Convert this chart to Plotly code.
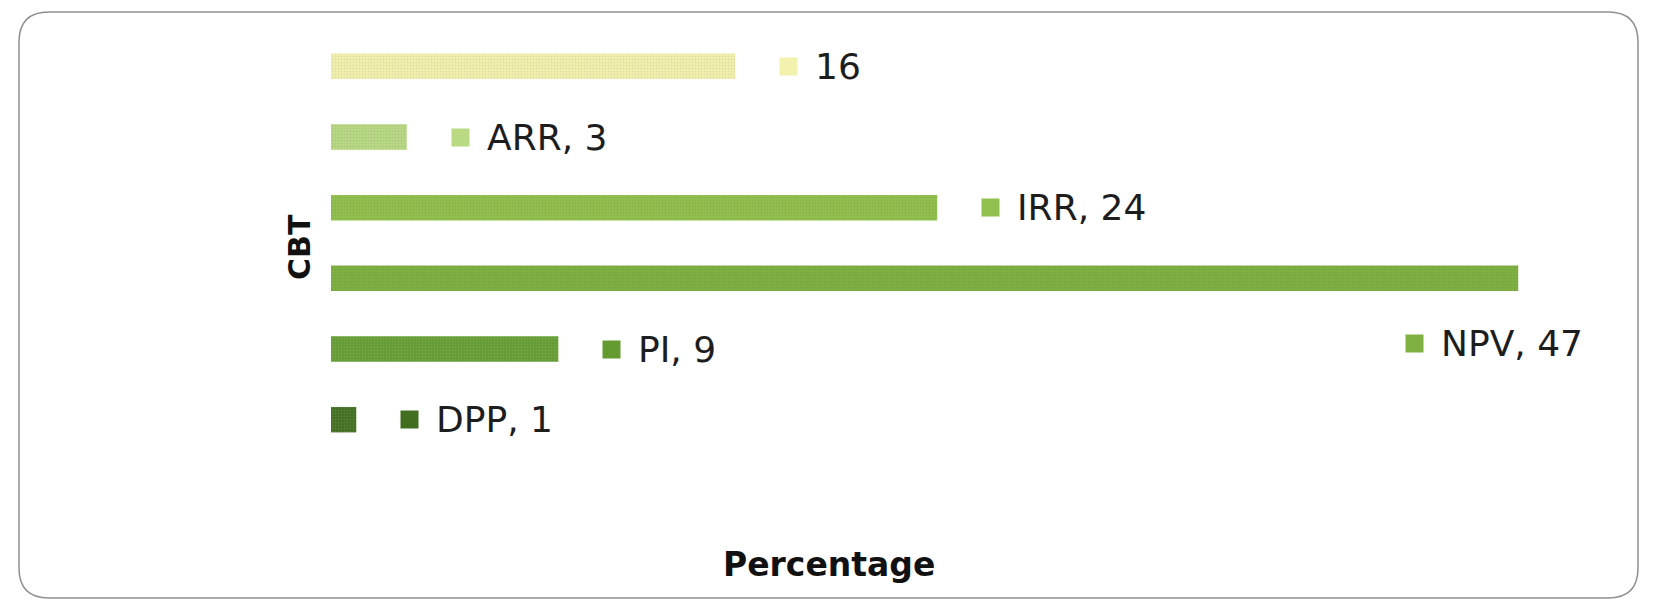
import plotly.graph_objects as go

# Capital budgeting techniques (CBT) and share of use, top to bottom
categories = ["PP", "ARR", "IRR", "NPV", "PI", "DPP"]
label_names = ["", "ARR", "IRR", "NPV", "PI", "DPP"]
values = [16, 3, 24, 47, 9, 1]
colors = ["#F3F1AE", "#B9D983", "#92C04E", "#7EB141", "#639B31", "#416E1F"]
x_max = 50

W, H = 1656, 604
ml, mr, mt, mb = 331, 62, 31, 149
pw, ph = W - ml - mr, H - mt - mb


def px_x(p):
    return (p - ml) / pw


def px_y(p):
    return (H - mb - p) / ph


fig = go.Figure()
fig.add_trace(go.Bar(
    x=values,
    y=categories,
    orientation="h",
    marker=dict(
        color=colors,
        line=dict(width=0),
        pattern=dict(shape=".", fgcolor="#ffffff", fgopacity=0.12, size=3, solidity=0.3),
    ),
    hoverinfo="x+y",
))

label_font = dict(family="DejaVu Sans", size=36, color="#1d1d1d")
key_gap = 44     # bar end -> colour key
text_gap = 34    # colour key -> label text
annotations = []
for cat, name, v, c in zip(categories, label_names, values, colors):
    text = f"{name}, {v}" if name else f"{v}"
    dx, dy = key_gap, 0
    if name == "NPV":
        # the longest bar carries its label underneath, pulled back inside the frame
        dx, dy = -113, -65
    annotations.append(dict(
        x=v, y=cat, xref="x", yref="y", text=" ", showarrow=False,
        xanchor="left", yanchor="middle", xshift=dx, yshift=dy,
        width=17, height=17, bgcolor=c, borderpad=0, font=dict(size=10),
    ))
    annotations.append(dict(
        x=v, y=cat, xref="x", yref="y", text=text, showarrow=False,
        xanchor="left", yanchor="middle", xshift=dx + text_gap, yshift=dy,
        font=label_font,
    ))

annotations.append(dict(
    x=px_x(829), y=px_y(564), xref="paper", yref="paper", text="<b>Percentage</b>",
    showarrow=False, xanchor="center", yanchor="middle",
    font=dict(family="DejaVu Sans", size=33, color="#111111"),
))
annotations.append(dict(
    x=px_x(299), y=px_y(247), xref="paper", yref="paper", text="<b>CBT</b>",
    showarrow=False, xanchor="center", yanchor="middle", textangle=-90,
    font=dict(family="DejaVu Sans", size=30, color="#111111"),
))

# rounded chart frame
x0, x1, y0, y1, r = 19, 1638, 12, 598, 30
frame = (
    f"M {px_x(x0 + r)} {px_y(y0)} L {px_x(x1 - r)} {px_y(y0)} "
    f"Q {px_x(x1)} {px_y(y0)} {px_x(x1)} {px_y(y0 + r)} "
    f"L {px_x(x1)} {px_y(y1 - r)} "
    f"Q {px_x(x1)} {px_y(y1)} {px_x(x1 - r)} {px_y(y1)} "
    f"L {px_x(x0 + r)} {px_y(y1)} "
    f"Q {px_x(x0)} {px_y(y1)} {px_x(x0)} {px_y(y1 - r)} "
    f"L {px_x(x0)} {px_y(y0 + r)} "
    f"Q {px_x(x0)} {px_y(y0)} {px_x(x0 + r)} {px_y(y0)} Z"
)

fig.update_layout(
    width=W, height=H,
    margin=dict(l=ml, r=mr, t=mt, b=mb),
    paper_bgcolor="white",
    plot_bgcolor="white",
    showlegend=False,
    bargap=0.64,
    annotations=annotations,
    shapes=[dict(type="path", path=frame, xref="paper", yref="paper",
                 line=dict(color="#909090", width=1.5), layer="below")],
    xaxis=dict(
        range=[0, x_max], showticklabels=False, showgrid=False, zeroline=False,
        showline=False, ticks="",
    ),
    yaxis=dict(
        autorange="reversed", showticklabels=False, showgrid=False,
        zeroline=False, showline=False, ticks="",
    ),
)

fig.write_html("out.html")
